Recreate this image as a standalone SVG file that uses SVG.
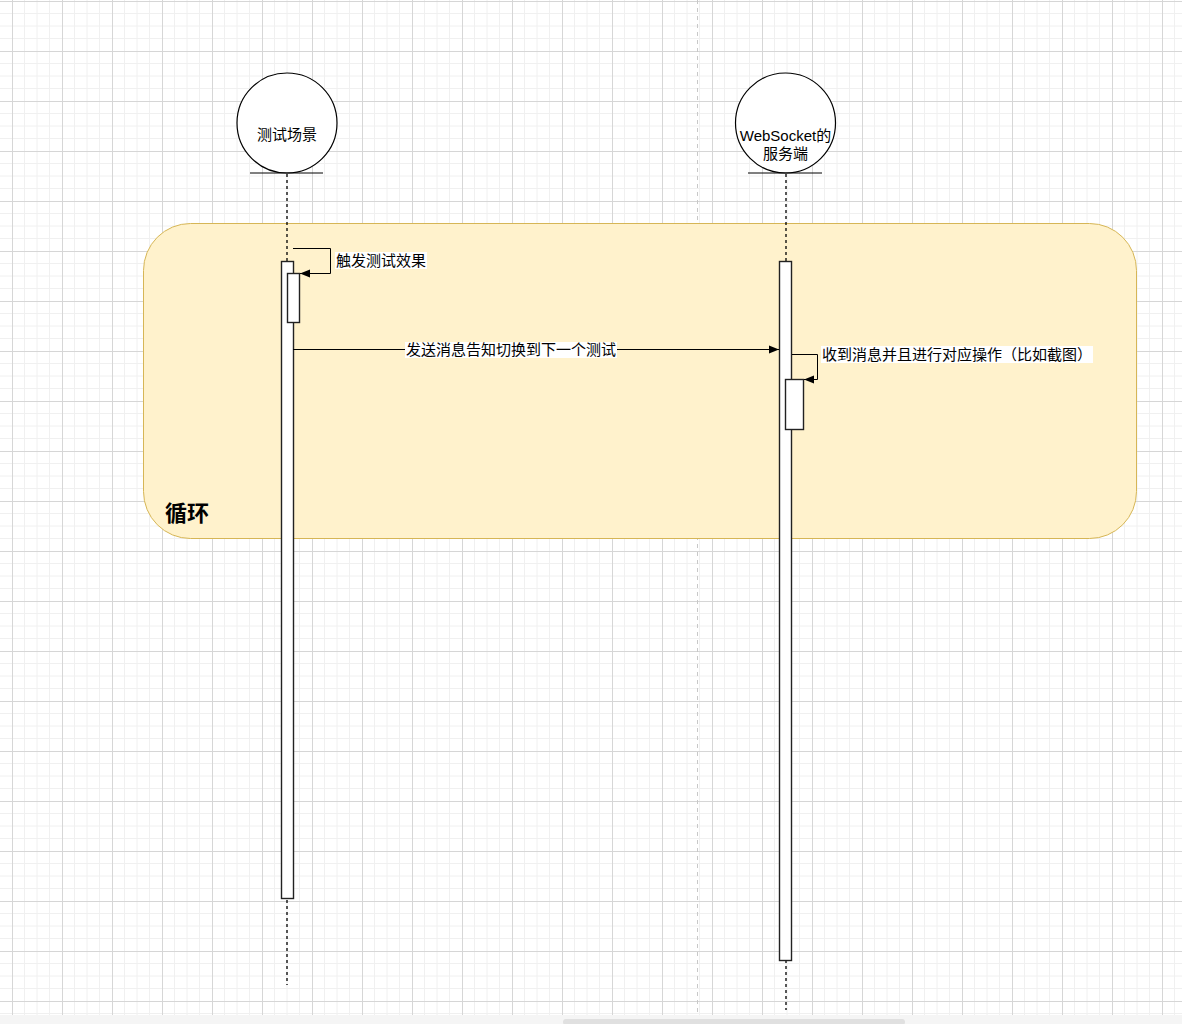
<svg xmlns="http://www.w3.org/2000/svg" width="1182" height="1024" viewBox="0 0 1182 1024">
<style>
.lbl{font-family:"Liberation Sans","Noto Sans CJK SC",sans-serif;font-size:15px;fill:#000}
.ln{stroke:#000;stroke-width:1;fill:none}
.dash{stroke:#000;stroke-width:1.3;stroke-dasharray:3 3;fill:none}
.act{fill:#fff;stroke:#222;stroke-width:1.4}
</style>
<defs>
<pattern id="g" x="12" y="1" width="50" height="50" patternUnits="userSpaceOnUse">
<path d="M12.5 0V50M25 0V50M37.5 0V50M0 12.5H50M0 25H50M0 37.5H50" stroke="#f0f0f0" stroke-width="1" fill="none"/>
<path d="M0.5 0V50M0 0.5H50" stroke="#d6d6d6" stroke-width="1" fill="none"/>
</pattern>
<marker id="ah" viewBox="0 0 10 10" refX="10" refY="5" markerWidth="10" markerHeight="10" markerUnits="userSpaceOnUse" orient="auto">
<path d="M0 1L10 5L0 9Z" fill="#000"/>
</marker>
</defs>
<rect width="1182" height="1024" fill="#fff"/>
<rect width="1182" height="1015" fill="url(#g)"/>
<line x1="697.5" y1="0" x2="697.5" y2="1015" stroke="#c8c8c8" stroke-dasharray="4 4"/>
<rect x="0" y="1015" width="1182" height="9" fill="#f5f5f5"/>
<rect x="563" y="1019" width="342" height="6" rx="3" fill="#e0e0e0"/>

<g id="loop">
<rect x="143.5" y="223.5" width="993" height="315" rx="47" ry="47" fill="#fff2cc" stroke="#d6b656"/>
<text x="165" y="521" style="font-family:'Liberation Sans','Noto Sans CJK SC',sans-serif;font-size:22px;font-weight:bold">循环</text>
</g>

<g id="actor-test">
<circle cx="287" cy="123" r="50" fill="#fff" stroke="#000" stroke-width="1.2"/>
<line class="ln" x1="250" y1="173" x2="323" y2="173" stroke-width="1.3"/>
<text class="lbl" x="287" y="140" text-anchor="middle">测试场景</text>
<line class="dash" x1="287" y1="174" x2="287" y2="985"/>
</g>

<g id="actor-server">
<circle cx="785.5" cy="123" r="50" fill="#fff" stroke="#000" stroke-width="1.2"/>
<line class="ln" x1="748" y1="173" x2="822" y2="173" stroke-width="1.3"/>
<text class="lbl" x="785.5" y="141" text-anchor="middle">WebSocket的</text>
<text class="lbl" x="785.5" y="159" text-anchor="middle">服务端</text>
<line class="dash" x1="786" y1="174" x2="786" y2="1010"/>
</g>

<g id="act-test">
<rect class="act" x="281.5" y="261.5" width="12" height="637"/>
<rect class="act" x="287.5" y="273.5" width="12" height="49"/>
</g>

<g id="act-server">
<rect class="act" x="779.5" y="261.5" width="12" height="699"/>
<rect class="act" x="785.5" y="379.5" width="18" height="50"/>
</g>

<g id="connectors">
<path class="ln" d="M293 248.5H330.5V273.5H300" marker-end="url(#ah)"/>
<rect x="335" y="252" width="92" height="17" fill="#fff"/>
<text class="lbl" x="336" y="266">触发测试效果</text>

<path class="ln" d="M293 349.5H779" marker-end="url(#ah)"/>
<rect x="405" y="342" width="212" height="16" fill="#fff"/>
<text class="lbl" x="511" y="355" text-anchor="middle">发送消息告知切换到下一个测试</text>

<path class="ln" d="M792 354.5H817.5V379.5H804" marker-end="url(#ah)"/>
<rect x="821" y="346" width="272" height="17" fill="#fff"/>
<text class="lbl" x="822" y="360">收到消息并且进行对应操作（比如截图）</text>
</g>
</svg>
